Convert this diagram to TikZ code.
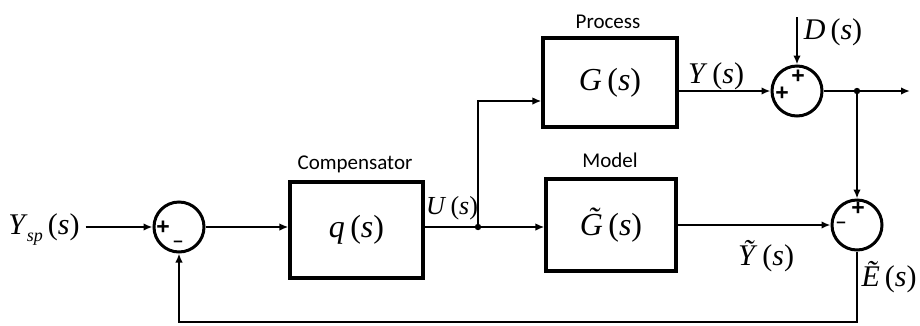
\documentclass[tikz,border=0pt]{standalone}
\usepackage{fontspec}
\setmainfont{Liberation Serif}
\newfontfamily\titlefont{Carlito}
\newfontfamily\signfont{Liberation Sans}
\usetikzlibrary{arrows.meta}

% transfer-function style text: italic symbol, upright parentheses
\newcommand\tf[2]{\textit{#1}\,(\textit{#2})}
% italic letter with a tilde on top
\newcommand\tld[1]{\textit{\accent"02DC #1}}

\tikzset{
  blk/.style={draw, line width=3.2pt, inner sep=0pt,
              font=\fontsize{32}{36}\selectfont},
  sumc/.style={draw, circle, line width=3pt, minimum size=50pt, inner sep=0pt},
  wire/.style={line width=2pt},
  arr/.style={wire, -{Latex[length=9pt,width=7.5pt]}},
  ttl/.style={font=\titlefont\fontsize{21}{24}\selectfont, inner sep=0pt},
  sig/.style={font=\fontsize{30}{34}\selectfont, inner sep=0pt},
  sgn/.style={font=\signfont\bfseries\fontsize{23}{26}\selectfont, inner sep=0pt},
  neg/.style={font=\signfont\bfseries\fontsize{17}{20}\selectfont, inner sep=0pt},
  dot/.style={fill}
}

\begin{document}
\begin{tikzpicture}[x=1pt,y=-1pt]
\useasboundingbox (0,0) rectangle (920,325);

% summing junctions
\node[sumc] (s1) at (179,227) {};
\node[sumc] (s2) at (797,91) {};
\node[sumc] (s3) at (857,225) {};

% blocks
\node[blk, minimum width=133pt, minimum height=96pt] (comp) at (356.5,230) {\tf{q}{s}};
\node[blk, minimum width=134pt, minimum height=89pt] (proc) at (610,82.5) {\tf{G}{s}};
\node[blk, minimum width=130pt, minimum height=92pt] (model) at (611,225) {\tf{\tld{G}}{s}};

% block titles
\node[ttl] (tcomp) at (355,164) {Compensator};
\node[ttl] (tproc) at (608,22) {Process};
\node[ttl] (tmod) at (610,160) {Model};

% signal labels
\node[sig] (ysp) at (44,230) {\textit{Y}\kern-1pt\raisebox{-7pt}{\fontsize{18}{20}\selectfont\itshape sp}\,(\textit{s})};
\node[sig, font=\fontsize{26}{30}\selectfont] (lu) at (452,208) {\tf{U}{s}};
\node[sig] (ly) at (716,76) {\tf{Y}{s}};
\node[sig] (ld) at (833,32) {\tf{D}{s}};
\node[sig] (lyt) at (766,256) {\tf{Ỹ}{s}};
\node[sig] (let) at (889,277) {\tf{Ẽ}{s}};

% signs at the summing junctions
\node[sgn] (p1) at (163,228) {+};
\node[neg] (m1) at (178,244) {–};
\node[sgn] (p2) at (798,77) {+};
\node[sgn] (p3) at (782,94) {+};
\node[sgn] (p4) at (858,209) {+};
\node[neg] (m2) at (841,225) {–};

% branch points and free ends
\coordinate (j1) at (478,227);
\coordinate (j2) at (857,91);
\coordinate (dtop) at (797,17);
\coordinate (out) at (910,91);
\coordinate (fb) at (0,322);

% connectors
\draw[arr] ([xshift=6pt]ysp.east |- s1) -- (s1.west);
\draw[arr] (s1.east) -- (s1.east -| comp.west);
\draw[wire] (s1.east -| comp.east) -- (j1);
\draw[arr] (j1) -- (j1 -| model.west);
\draw[arr] (j1) |- ([yshift=-18.5pt]proc.west);
\draw[arr] (proc.east |- s2) -- (s2.west);
\draw[arr] (dtop) -- (s2.north);
\draw[wire] (s2.east) -- (j2);
\draw[arr] (j2) -- (out);
\draw[arr] (j2) -- (s3.north);
\draw[arr] (model.east |- s3) -- (s3.west);
\draw[arr] (s3.south) -- (s3.south |- fb) -| (s1.south);

\fill[dot] (j1) circle (3.2);
\fill[dot] (j2) circle (3.2);
\end{tikzpicture}
\end{document}
